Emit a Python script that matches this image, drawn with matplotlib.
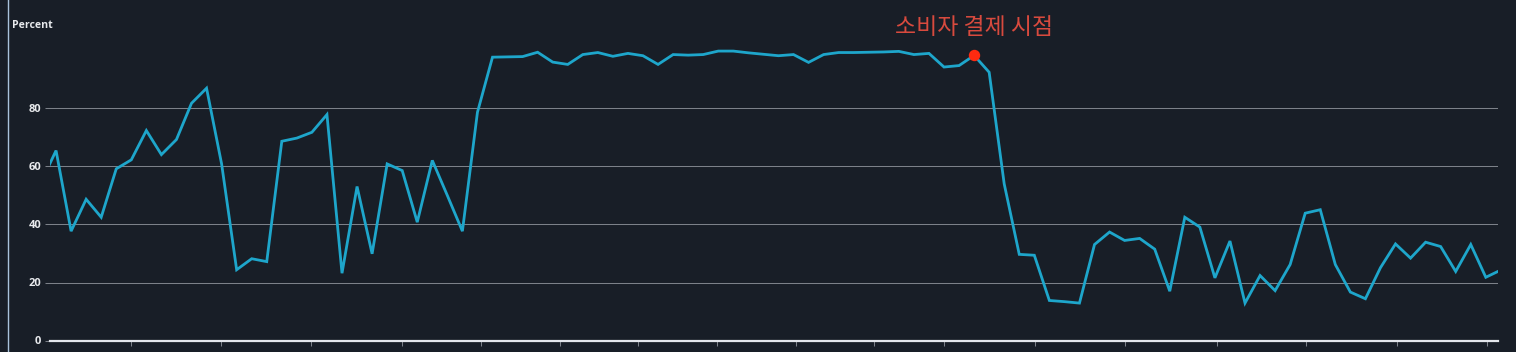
import matplotlib
matplotlib.use("Agg")
import matplotlib.pyplot as plt
from matplotlib.lines import Line2D
import numpy as np

# ---- data ----
percent = [54.5, 65.5, 37.7, 48.7, 42.5, 59.2, 62.3, 72.4, 64.1, 69.3,
           81.8, 87.0, 60.9, 24.4, 28.2, 27.2, 68.7, 69.8, 71.8, 77.9,
           23.2, 53.1, 29.9, 60.9, 58.6, 40.8, 62.1, 50.0, 37.7, 78.7,
           97.7, 97.8, 97.9, 99.4, 96.0, 95.2, 98.6, 99.3, 98.0, 99.0,
           98.2, 95.2, 98.6, 98.4, 98.6, 99.8, 99.8, 99.2, 98.7, 98.2,
           98.6, 95.9, 98.6, 99.3, 99.3, 99.4, 99.5, 99.7, 98.6, 99.0,
           94.3, 94.8, 98.3, 92.5, 54.0, 29.7, 29.4, 13.8, 13.4, 12.9,
           33.1, 37.4, 34.5, 35.2, 31.5, 17.0, 42.5, 39.1, 21.6, 34.3,
           12.9, 22.4, 17.2, 26.2, 43.9, 45.1, 26.2, 16.7, 14.4, 25.1,
           33.3, 28.4, 33.9, 32.4, 23.8, 33.1, 21.8, 24.3]
y_ticks = [0, 20, 40, 60, 80]
y_label = "Percent"
highlight_index = 62
highlight_text = "소비자 결제 시점"
x_tick_positions = [5.98, 11.96, 17.94, 23.99, 29.24, 34.49, 39.67, 44.92,
                    50.17, 55.35, 60.0, 66.05, 72.03, 78.14, 84.05, 90.1, 96.08]

# ---- style ----
BG = "#181e27"
LINE = "#1ea6cb"
GRID = "#7c8189"
TXT = "#e8eaed"
UI_FONT = ["Open Sans", "Noto Sans", "DejaVu Sans"]

W, H = 1516, 352
fig = plt.figure(figsize=(W / 100, H / 100), dpi=100, facecolor=BG)

left_px, right_px = 50, 1498
zero_px, top_val = 340.5, 105
px_per_unit = 2.9
ax_h_px = top_val * px_per_unit
ax = fig.add_axes([left_px / W, (H - zero_px) / H,
                   (right_px - left_px) / W, ax_h_px / H])
ax.set_facecolor(BG)

x = np.arange(len(percent))
ax.plot(x, percent, color=LINE, lw=2.0, solid_joinstyle="miter", zorder=3)

ax.set_xlim(0.598, 96.81)
ax.set_ylim(0, top_val)

# red highlight point & annotation
hx, hy = x[highlight_index], percent[highlight_index]
ax.plot([hx], [hy], "o", color="#ff2a10", ms=7.2, zorder=4, clip_on=False)
ax.annotate(highlight_text, (hx, hy), xytext=(0, 20), textcoords="offset points",
            ha="center", va="center", color="#d84a3e", fontsize=16.5,
            family=["Noto Sans CJK KR", "DejaVu Sans"])

# axes styling
for s in ["top", "right", "left"]:
    ax.spines[s].set_visible(False)
ax.spines["bottom"].set_color("#e4e7ec")
ax.spines["bottom"].set_linewidth(1.6)
ax.spines["bottom"].set_zorder(5)

ax.set_yticks(y_ticks)
ax.set_yticklabels([str(v) for v in y_ticks])
ax.tick_params(axis="y", length=3.8, width=0.75, color=GRID, pad=2.5,
               labelcolor=TXT, labelsize=8)
for lab in ax.get_yticklabels():
    lab.set_family(UI_FONT)
    lab.set_fontweight("bold")

ax.set_xticks(x_tick_positions)
ax.set_xticklabels([])
ax.tick_params(axis="x", length=3.5, width=0.75, color=GRID, direction="out")

ax.grid(axis="y", color=GRID, lw=0.75, zorder=1)
ax.set_axisbelow(True)
ax.get_ygridlines()[0].set_visible(False)

# y label at top-left
fig.text(12 / W, 1 - 25 / H, y_label, color=TXT, fontsize=7.6,
         fontweight="bold", family=UI_FONT, ha="left", va="center")

# left panel border
fig.add_artist(Line2D([7.5 / W, 7.5 / W], [0, 1], transform=fig.transFigure,
                      color="#a9c3dc", lw=1.0))

fig.savefig("out.png", dpi=100, facecolor=BG)
